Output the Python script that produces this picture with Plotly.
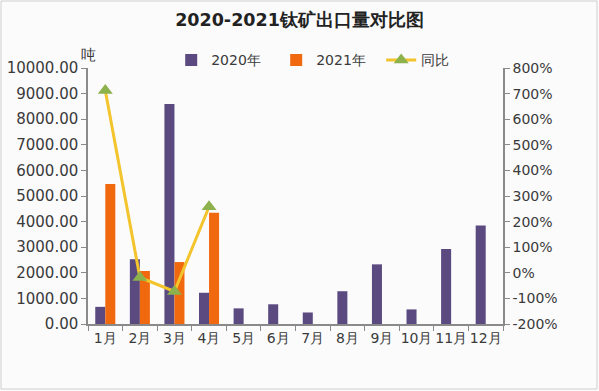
import plotly.graph_objects as go

months = ["1月", "2月", "3月", "4月", "5月", "6月", "7月", "8月", "9月", "10月", "11月", "12月"]
exports_2020 = [670, 2530, 8590, 1220, 610, 770, 450, 1280, 2330, 570, 2930, 3850]
exports_2021 = [5470, 2070, 2420, 4350, None, None, None, None, None, None, None, None]
yoy_pct = [712, -18, -73, 258, None, None, None, None, None, None, None, None]

left_ticks = [0, 1000, 2000, 3000, 4000, 5000, 6000, 7000, 8000, 9000, 10000]
right_ticks = [-200, -100, 0, 100, 200, 300, 400, 500, 600, 700, 800]
right_labels = [f"{v}%" for v in right_ticks]

FONT = "DejaVu Sans"
TXT = "#3a3a3a"
AX = "#8a8a8a"

fig = go.Figure()
fig.add_trace(go.Bar(x=months, y=exports_2020, name="2020年", marker_color="#5a4a80",
                     marker_line_width=0))
fig.add_trace(go.Bar(x=months, y=exports_2021, name="2021年", marker_color="#f0690f",
                     marker_line_width=0))
fig.add_trace(go.Scatter(x=months, y=yoy_pct, name="同比", yaxis="y2", mode="lines+markers",
                         line=dict(color="#f3c42c", width=3),
                         marker=dict(symbol="triangle-up", size=13, color="#8db14c")))

fig.update_layout(
    width=599, height=391,
    margin=dict(l=88, r=96, t=68, b=67, autoexpand=False),
    paper_bgcolor="#fbfbfb", plot_bgcolor="#fbfbfb",
    font=dict(family=FONT, size=14, color=TXT),
    barmode="group", bargap=0.42, bargroupgap=0.0,
    showlegend=True,
    title=dict(text="<b>2020-2021钛矿出口量对比图</b>", x=0.5, xanchor="center",
               y=1 - 20 / 391, yanchor="middle", font=dict(size=17.5, color="#222222", family=FONT)),
    legend=dict(orientation="h", x=0.58, xanchor="center", y=1.03, yanchor="middle",
                font=dict(size=14, color=TXT), bgcolor="rgba(0,0,0,0)",
                itemwidth=30, entrywidth=60, entrywidthmode="pixels", traceorder="normal"),
    xaxis=dict(type="category", range=[-0.5, len(months) - 0.5], showline=True,
               linecolor=AX, linewidth=1.5,
               ticks="outside", tickson="boundaries", ticklen=5, tickcolor=AX,
               showgrid=False, tickangle=0, automargin=False,
               tickfont=dict(size=14, color=TXT)),
    yaxis=dict(range=[0, 10000], tickvals=left_ticks, tickformat=".2f",
               showline=True, linecolor=AX, linewidth=1.5, ticks="outside", ticklen=5,
               tickcolor=AX, showgrid=False, zeroline=False, automargin=False,
               tickfont=dict(size=15, color=TXT)),
    yaxis2=dict(range=[-200, 800], tickmode="array", tickvals=right_ticks, ticktext=right_labels,
                overlaying="y", side="right", showline=True, linecolor=AX, linewidth=1.5,
                ticks="outside", ticklen=5, tickcolor=AX, showgrid=False, zeroline=False,
                automargin=False, tickfont=dict(size=14, color=TXT)),
    annotations=[dict(text="吨", xref="paper", yref="paper", x=0.0, y=1.05,
                      xanchor="center", yanchor="middle", showarrow=False,
                      font=dict(size=15, color=TXT))],
    shapes=[dict(type="rect", xref="paper", yref="paper",
                 x0=(1 - 88) / 415, x1=(597 - 88) / 415,
                 y0=(324 - 389) / 256, y1=(324 - 1) / 256,
                 line=dict(color="#cfcfcf", width=1), fillcolor="rgba(0,0,0,0)")],
)

fig.write_html("out.html", config={"displayModeBar": False},
               post_script="document.body.style.margin='0';")
